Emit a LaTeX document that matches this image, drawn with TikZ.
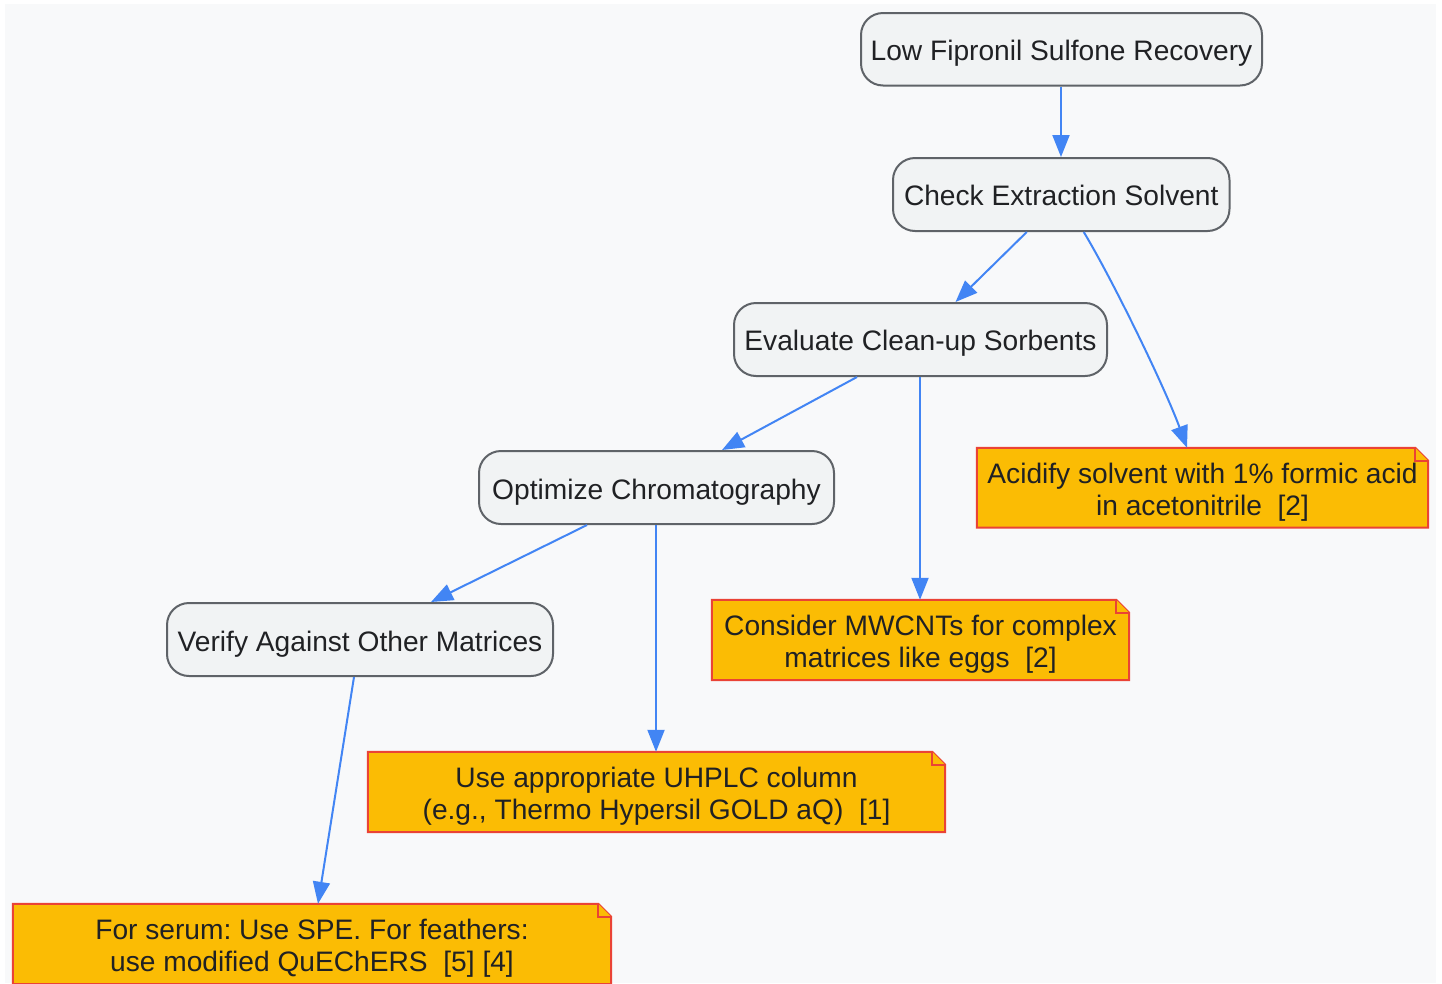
\documentclass[tikz,border=0pt]{standalone}
\usepackage{fontspec}
\setmainfont{Liberation Sans}
\usetikzlibrary{arrows.meta,calc}
\definecolor{bgc}{HTML}{F8F9FA}
\definecolor{boxfill}{HTML}{F1F3F4}
\definecolor{boxline}{HTML}{5F6368}
\definecolor{txt}{HTML}{202124}
\definecolor{notefill}{HTML}{FBBC04}
\definecolor{noteline}{HTML}{EA4335}
\definecolor{arrowc}{HTML}{4285F4}
\tikzset{
  x=1pt,y=-1pt,
  basetext/.style={font=\fontsize{28.15}{32}\selectfont\frenchspacing,text=txt,align=center,inner sep=0pt},
  stepbox/.style={draw=boxline,fill=boxfill,line width=2pt,rounded corners=22pt,inner sep=0pt},
  noteframe/.style={inner sep=0pt},
  notepoly/.style={draw=noteline,fill=notefill,line width=2pt,line join=miter},
  conn/.style={draw=arrowc,line width=2pt,-{Triangle[length=22pt,width=17pt,fill=arrowc]}}
}
\newcommand{\boxat}[7]{% name, left, top, right, bottom, text, baseline
  \node[stepbox,minimum width=#4pt-#2pt,minimum height=#5pt-#3pt] (#1) at ({(#2+#4)/2},{(#3+#5)/2}) {};
  \node[basetext,anchor=base] (#1-text) at ({(#2+#4)/2},#7) {#6};}
\newcommand{\noteat}[6]{%
  \node[noteframe,minimum width=#4pt-#2pt,minimum height=#5pt-#3pt] (#1) at ({(#2+#4)/2},{(#3+#5)/2}) {};
  \draw[notepoly] (#1.north west) -- ([xshift=-13pt]#1.north east) -- ([yshift=-13pt]#1.north east) -- (#1.south east) -- (#1.south west) -- cycle;
  \draw[notepoly] ([xshift=-13pt]#1.north east) -- ([xshift=-13pt,yshift=-13pt]#1.north east) -- ([yshift=-13pt]#1.north east);
  \node[basetext] (#1-text) at ([yshift=-4pt]#1.center) {#6};}
\begin{document}
\begin{tikzpicture}
\useasboundingbox (0,0) rectangle (1442,983);
\clip (0,0) rectangle (1442,983);
\fill[white] (0,0) rectangle (1442,983);
\fill[bgc] (5,4) rectangle (1436,983);
\boxat{low}{861}{13}{1262}{85.5}{Low Fipronil Sulfone Recovery}{60}
\boxat{check}{893}{158}{1229.5}{231}{Check Extraction Solvent}{205}
\boxat{eval}{734}{303}{1107}{376}{Evaluate Clean-up Sorbents}{350.5}
\boxat{opt}{479}{451}{834}{524}{Optimize Chromatography}{499.3}
\boxat{verify}{167}{603}{553}{676}{Verify Against Other Matrices}{651}
\noteat{acid}{977}{448}{1428}{527.5}{Acidify solvent with 1\% formic acid\\in acetonitrile\ \ [2]}
\noteat{mwcnt}{712}{600}{1129}{680}{Consider MWCNTs for complex\\matrices like eggs\ \ [2]}
\noteat{uhplc}{368}{752}{945}{832}{Use appropriate UHPLC column\\(e.g., Thermo Hypersil GOLD aQ)\ \ [1]}
\noteat{serum}{13}{904}{611}{984}{For serum: Use SPE. For feathers:\\use modified QuEChERS\ \ [5] [4]}
\draw[conn] ([xshift=-0.5pt]low.south) -- ([xshift=-0.5pt]low.south |- check.north);
\draw[conn] ([xshift=-34.5pt]check.south) -- ([xshift=35pt]eval.north);
\draw[conn] ([xshift=22.5pt]check.south) .. controls +(30,50) and +(-22,-60) .. ([xshift=-15.5pt]acid.north);
\draw[conn] ([xshift=-63.5pt]eval.south) -- ([xshift=65.5pt]opt.north);
\draw[conn] ([xshift=-0.5pt]eval.south) -- ([xshift=-0.5pt]eval.south |- mwcnt.north);
\draw[conn] ([xshift=-69.5pt]opt.south) -- ([xshift=71pt]verify.north);
\draw[conn] ([xshift=-0.5pt]opt.south) -- ([xshift=-0.5pt]opt.south |- uhplc.north);
\draw[conn] ([xshift=-6pt]verify.south) -- ([xshift=6pt]serum.north);
\end{tikzpicture}
\end{document}
